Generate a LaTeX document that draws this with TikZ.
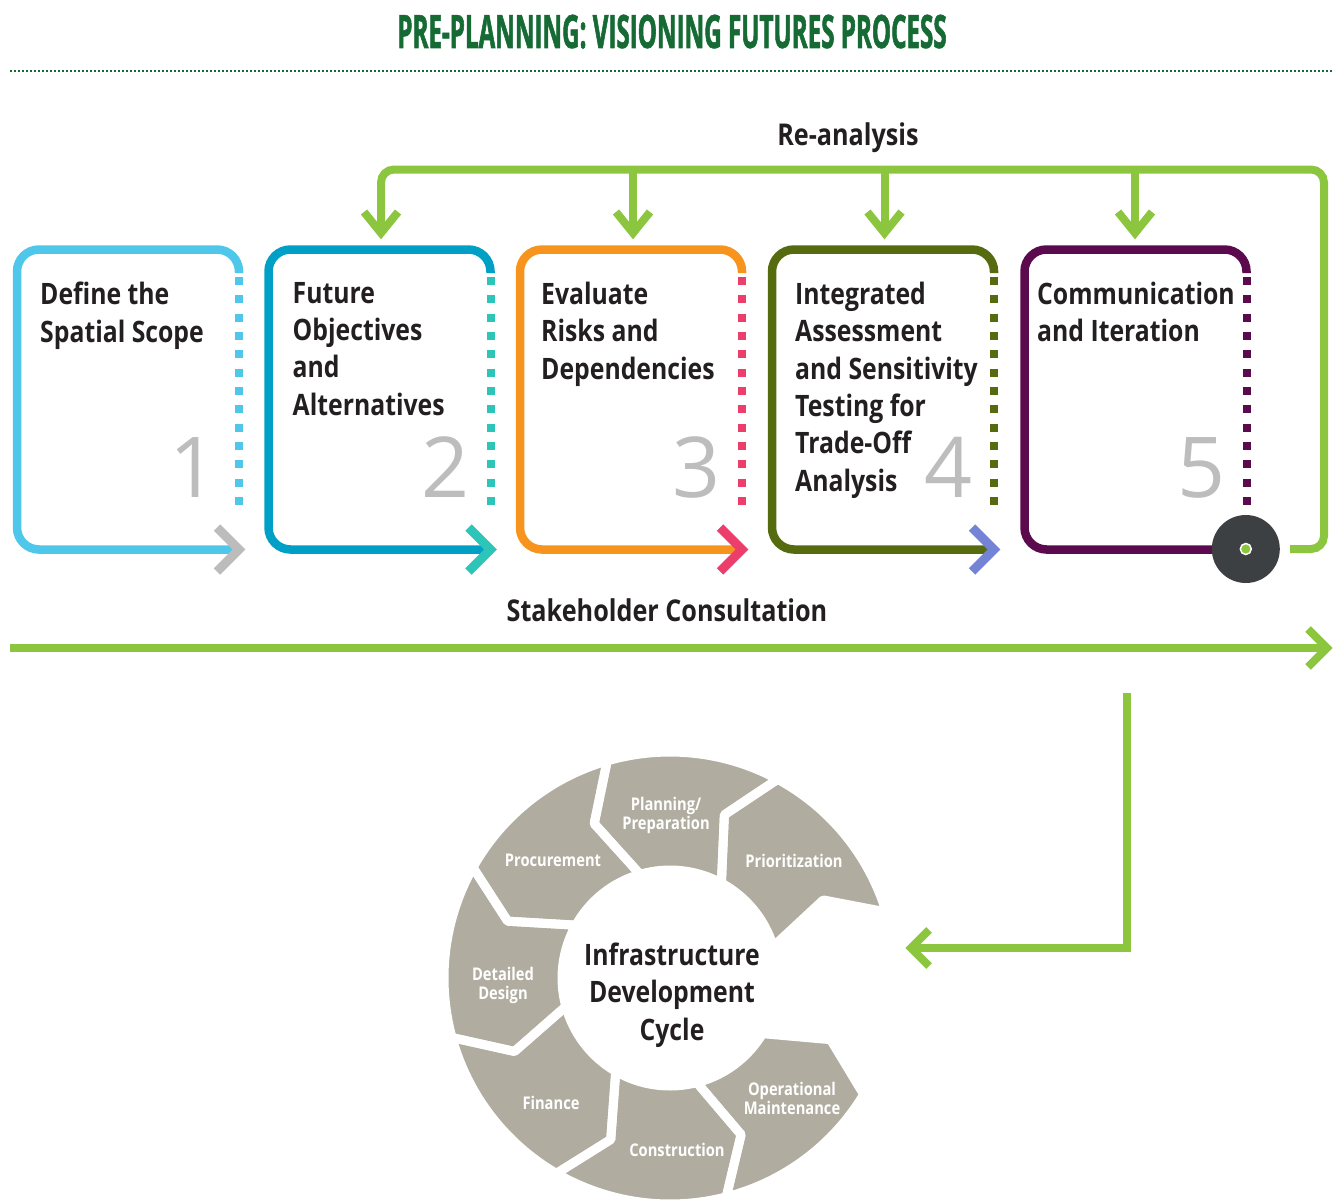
\documentclass[tikz,border=0pt]{standalone}
\usepackage{fontspec}
\newfontfamily\cond[FakeStretch=0.84]{Open Sans}
\newfontfamily\titlef[FakeStretch=0.525,FakeBold=1.2]{Open Sans}
\newfontfamily\numf{Open Sans}
\usetikzlibrary{calc}
\definecolor{tgreen}{HTML}{166B35}
\definecolor{lgreen}{HTML}{8CC63F}
\definecolor{txt}{HTML}{231F20}
\definecolor{numgray}{HTML}{BDBDBD}
\definecolor{bA}{HTML}{4EC7EB}
\definecolor{bB}{HTML}{00A0C6}
\definecolor{dB}{HTML}{2CC5B8}
\definecolor{bC}{HTML}{F7941E}
\definecolor{dC}{HTML}{EC3E6A}
\definecolor{bD}{HTML}{566B10}
\definecolor{cD}{HTML}{7384D6}
\definecolor{bE}{HTML}{5B0A4D}
\definecolor{chevA}{HTML}{BCBCBC}
\definecolor{segc}{HTML}{B1ACA0}
\definecolor{darkc}{HTML}{3C4043}
\begin{document}
\begin{tikzpicture}[x=1pt,y=-1pt,
  boxline/.style={line width=8.5pt, rounded corners=22pt},
  dotline/.style={line width=8pt, dash pattern=on 8pt off 10.33pt},
  chev/.style={line width=9pt, line join=miter},
  gline/.style={draw=lgreen, line width=8pt},
  gchev/.style={draw=lgreen, line width=8pt, line join=miter},
  boxtext/.style={anchor=north west, inner sep=0pt, align=left, text=txt, font=\cond\bfseries\fontsize{29.5}{37.3}\selectfont},
  numtext/.style={anchor=base east, inner sep=0pt, text=numgray, font=\numf\fontsize{84}{84}\selectfont},
  lbl/.style={anchor=base, inner sep=0pt, text=txt, font=\cond\bfseries\fontsize{30}{36}\selectfont},
  seglbl/.style={anchor=north, inner sep=0pt, align=center, text=white, font=\cond\bfseries\fontsize{17.5}{19.5}\selectfont},
  centtext/.style={anchor=north, inner sep=0pt, align=center, text=txt, font=\cond\bfseries\fontsize{29.5}{37.5}\selectfont}
]
\useasboundingbox (0,0) rectangle (1335,1199);

% title
\node[anchor=base, inner sep=0pt, text=tgreen, font=\titlef\bfseries\fontsize{46}{46}\selectfont] (title) at (672,48) {PRE-PLANNING: VISIONING FUTURES PROCESS};
\draw[tgreen, line width=1.8pt, dash pattern=on 1.8pt off 2.2pt] (10,71) -- (1333,71);

% boxes
\foreach \L/\bc/\dc/\n in {17/bA/bA/1, 268.5/bB/dB/2, 520/bC/dC/3, 772/bD/bD/4, 1024.5/bE/bE/5}{
  \pgfmathsetmacro\R{\L+222}
  \draw[boxline, draw=\bc] (\R,273) -- (\R,249.5) -- (\L,249.5) -- (\L,549.5) -- (\R,549.5);
  \draw[dotline, draw=\dc] (\R,277) -- (\R,506);
  \node[numtext] (num\n) at (\R-21,497) {\n};
}
\foreach \R/\cc in {239/chevA, 490.5/dB, 742/dC, 994/cD}{
  \draw[chev, draw=\cc] (\R-22,527.5) -- (\R,549.5) -- (\R-22,571.5);
}

\node[boxtext] (t1) at (40,282) {Define the\\Spatial Scope};
\node[boxtext] (t2) at (292.5,282) {Future\\Objectives\\and\\Alternatives};
\node[boxtext] (t3) at (541,282) {Evaluate\\Risks and\\Dependencies};
\node[boxtext] (t4) at (795,282) {Integrated\\Assessment\\and Sensitivity\\Testing for\\Trade-Off\\Analysis};
\node[boxtext] (t5) at (1037,282) {Communication\\and Iteration};

% hub circle
\node[circle, fill=darkc, minimum size=68pt, inner sep=0pt] (hub) at (1245.8,549) {};
\node[circle, fill=lgreen, draw=white, line width=1.5pt, minimum size=11pt, inner sep=0pt] (hubdot) at (hub) {};

% re-analysis loop
\coordinate (in2) at (381,233);
\coordinate (in3) at (633,233);
\coordinate (in4) at (884.5,233);
\coordinate (in5) at (1135,233);
\draw[gline, rounded corners=13pt] ([xshift=10pt]hub.east) -- (1324,549) -- (1324,169.5) -- (381,169.5) -- (in2);
\foreach \c in {in3,in4,in5}{
  \draw[gline] (\c |- 0,169.5) -- (\c);
}
\foreach \c in {in2,in3,in4,in5}{
  \draw[gchev] ([xshift=-17pt,yshift=21pt]\c) -- (\c) -- ([xshift=17pt,yshift=21pt]\c);
}
\node[lbl] (reanal) at (848,145) {Re-analysis};

% stakeholder line
\node[lbl] (stake) at (667,621) {Stakeholder Consultation};
\coordinate (sA) at (10,648);
\coordinate (sB) at (1327,648);
\draw[gline] (sA) -- (sB);
\draw[gchev] (1308,629) -- (sB) -- (1308,667);

% L arrow to cycle
\coordinate (lA) at (1127,693);
\coordinate (lB) at (911,948);
\draw[gline, line join=miter] (lA) -- (1127,948) -- (lB);
\draw[gchev] (929,930) -- (lB) -- (929,966);

% cycle
\coordinate (cc) at (670,978);
\foreach \k in {0,...,6}{
  \pgfmathsetmacro\a{17+44.57*\k}
  \pgfmathsetmacro\b{17+44.57*(\k+1)}
  \pgfmathsetmacro\an{\a+10}
  \pgfmathsetmacro\bn{\b+10}
  \fill[segc] ($(cc)+(\b:226pt)$) arc[start angle=\b, end angle=\a, radius=226pt] -- ($(cc)+(\an:172pt)$) -- ($(cc)+(\a:108pt)$) arc[start angle=\a, end angle=\b, radius=108pt] -- ($(cc)+(\bn:172pt)$) -- cycle;
}
\foreach \k in {0,...,6}{
  \pgfmathsetmacro\a{17+44.57*\k}
  \pgfmathsetmacro\b{17+44.57*(\k+1)}
  \pgfmathsetmacro\an{\a+10}
  \pgfmathsetmacro\bn{\b+10}
  \draw[white, line width=9pt, line join=round] ($(cc)+(\b:226pt)$) arc[start angle=\b, end angle=\a, radius=226pt] -- ($(cc)+(\an:172pt)$) -- ($(cc)+(\a:108pt)$) arc[start angle=\a, end angle=\b, radius=108pt] -- ($(cc)+(\bn:172pt)$) -- cycle;
}
\node[seglbl] (s1) at (666,796.7) {Planning/\\Preparation};
\node[seglbl] (s2) at (794,853.5) {Prioritization};
\node[seglbl] (s3) at (553,854) {Procurement};
\node[seglbl] (s4) at (503,966.7) {Detailed\\Design};
\node[seglbl] (s5) at (551,1096) {Finance};
\node[seglbl] (s6) at (677,1143.4) {Construction};
\node[seglbl] (s7) at (792,1081.7) {Operational\\Maintenance};
\node[centtext] (ctr) at (672,942.6) {Infrastructure\\Development\\Cycle};
\end{tikzpicture}
\end{document}
